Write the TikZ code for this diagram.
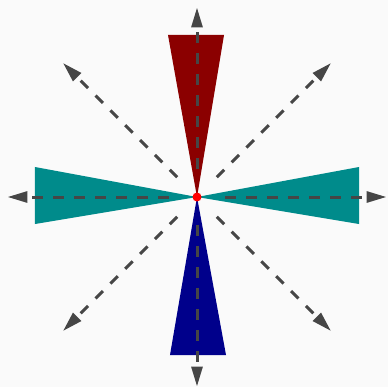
\documentclass[tikz,border=0pt]{standalone}
\usepackage{xcolor}
\usepackage{tikz}
\usetikzlibrary{arrows.meta, calc}
\definecolor{pagebg}{RGB}{250, 250, 250}
\definecolor{raygray}{RGB}{70, 70, 70}
\definecolor{wedgered}{RGB}{139, 0, 0}
\definecolor{wedgeteal}{RGB}{0, 139, 139}
\definecolor{wedgeblue}{RGB}{0, 0, 139}

\begin{document}
\begin{tikzpicture}[
				x=1pt, y=1pt,
				ray/.style={draw=raygray, line width=3pt, dash pattern=on 10.5pt off 10.5pt, -{Triangle[length=20pt, width=11pt]}},
				wedge/.style={draw=none}
				]
				\fill[pagebg] (-197,-190) rectangle (191,197);
				\coordinate (c) at (0,0);
				
				% wedges
				\fill[wedge, wedgered] (c) -- (-29,162) -- (27,162) -- cycle;
				\fill[wedge, wedgeblue] (c) -- (-27,-158) -- (29,-158) -- cycle;
				\fill[wedge, wedgeteal] (c) -- (-162,30) -- (-162,-27) -- cycle;
				\fill[wedge, wedgeteal] (c) -- (162,30) -- (162,-27) -- cycle;
				
				% rays
				\foreach \a in {0,45,...,315} {
					\coordinate (s\a) at ($(c)+(\a:28)$);
					\coordinate (e\a) at ($(c)+(\a:189.5)$);
					\draw[ray] (s\a) -- (e\a);
				}
				
				\fill[red] (c) circle (4.5);
			\end{tikzpicture}
\end{document}
